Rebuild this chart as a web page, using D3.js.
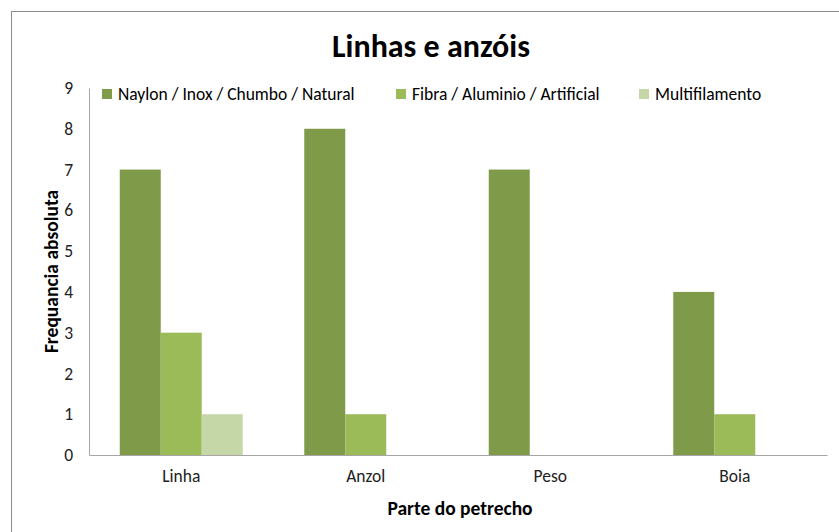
<!DOCTYPE html>
<meta charset="utf-8">
<style>
body { margin: 0; background: #fff; }
text { font-family: Carlito, Calibri, Lato, "Open Sans", sans-serif; fill: #000; }
.tick text { font-size: 17.5px; fill: #222; }
</style>
<body>
<script src="https://d3js.org/d3.v7.min.js"></script>
<script>

const width = 839, height = 532;
const margin = {top: 88, right: 12, bottom: 77, left: 89};

const categories = ["Linha", "Anzol", "Peso", "Boia"];
const series = ["Naylon / Inox / Chumbo / Natural", "Fibra / Aluminio / Artificial", "Multifilamento"];
const naylon = [7, 8, 7, 4];
const fibra = [3, 1, 0, 1];
const multi = [1, 0, 0, 0];
const yTicks = [0, 1, 2, 3, 4, 5, 6, 7, 8, 9];
const colors = ["#7f9a48", "#9bbb59", "#c5d7a7"];

const values = [naylon, fibra, multi];

const svg = d3.select("body").append("svg")
    .attr("width", width)
    .attr("height", height);

// chart border
svg.append("rect")
    .attr("x", 11.5).attr("y", 11.5)
    .attr("width", width).attr("height", height)
    .attr("fill", "none")
    .attr("stroke", "#8c8c8c");

const x0 = d3.scaleBand(categories, [margin.left, width - margin.right]);
const bar = x0.bandwidth() / 4.5;
const x1 = d3.scaleBand(series, [bar * 0.75, x0.bandwidth() - bar * 0.75]);

const y = d3.scaleLinear([0, 9], [height - margin.bottom, margin.top]);

// bars
svg.append("g")
  .selectAll("g")
  .data(series)
  .join("g")
    .attr("fill", (d, i) => colors[i])
  .selectAll("rect")
  .data((s, i) => categories.map((c, j) => ({c: c, s: s, v: values[i][j]})))
  .join("rect")
    .attr("x", d => x0(d.c) + x1(d.s))
    .attr("width", x1.bandwidth())
    .attr("y", d => y(d.v))
    .attr("height", d => y(0) - y(d.v));

// y axis
const yAxis = svg.append("g")
    .attr("transform", `translate(${margin.left},0)`)
    .call(d3.axisLeft(y).tickValues(yTicks).tickSize(0).tickPadding(16));
yAxis.select(".domain").attr("stroke", "#a6a6a6");

// x axis
const xAxis = svg.append("g")
    .attr("transform", `translate(0,${y(0)})`)
    .call(d3.axisBottom(x0).tickSize(0).tickPadding(15));
xAxis.select(".domain").attr("stroke", "#a6a6a6");

// title
svg.append("text")
    .attr("x", 431).attr("y", 57)
    .attr("text-anchor", "middle")
    .style("font-size", "32px")
    .style("font-weight", "bold")
    .text("Linhas e anzóis");

// axis titles
svg.append("text")
    .attr("transform", `translate(58,${(y(0) + y(9)) / 2}) rotate(-90)`)
    .attr("text-anchor", "middle")
    .style("font-size", "19.5px")
    .style("font-weight", "bold")
    .text("Frequancia absoluta");

svg.append("text")
    .attr("x", 460).attr("y", 515)
    .attr("text-anchor", "middle")
    .style("font-size", "19.5px")
    .style("font-weight", "bold")
    .text("Parte do petrecho");

// legend
const legendX = [102, 396, 639];
const legend = svg.append("g")
  .selectAll("g")
  .data(series)
  .join("g")
    .attr("transform", (d, i) => `translate(${legendX[i]},89)`);
legend.append("rect")
    .attr("width", 10).attr("height", 10)
    .attr("fill", (d, i) => colors[i]);
legend.append("text")
    .attr("x", 16).attr("y", 11)
    .style("font-size", "17.5px")
    .text(d => d);

</script>
